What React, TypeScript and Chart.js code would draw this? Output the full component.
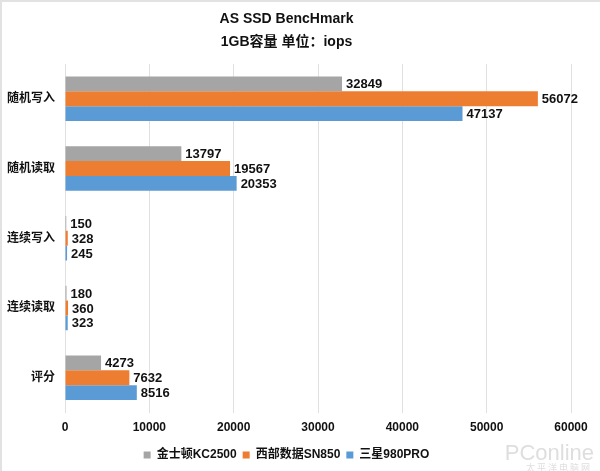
import React, { useEffect, useRef } from "react";
import { Chart, registerables } from "chart.js";

Chart.register(...registerables);

const categories = ["随机写入", "随机读取", "连续写入", "连续读取", "评分"];
const kingston = [32849, 13797, 150, 180, 4273];
const wd = [56072, 19567, 328, 360, 7632];
const samsung = [47137, 20353, 245, 323, 8516];
const seriesNames = ["金士顿KC2500", "西部数据SN850", "三星980PRO"];
const seriesColors = ["#A5A5A5", "#ED7D31", "#5B9BD5"];
const titleLines = ["AS SSD BencHmark", "1GB容量 单位：iops"];
const xMax = 60000;
const xStep = 10000;

const FONT = "'Liberation Sans', Arial, 'Noto Sans CJK SC', sans-serif";

const valueLabels = {
  id: "valueLabels",
  afterDatasetsDraw(chart: any) {
    const ctx = chart.ctx;
    ctx.save();
    ctx.font = `bold 13px ${FONT}`;
    ctx.fillStyle = "#111";
    ctx.textBaseline = "middle";
    ctx.textAlign = "left";
    chart.data.datasets.forEach((ds: any, di: number) => {
      const meta = chart.getDatasetMeta(di);
      meta.data.forEach((el: any, i: number) => {
        ctx.fillText(String(ds.data[i]), el.x + 4, el.y + 1);
      });
    });
    ctx.restore();
  },
};

const watermark = {
  id: "watermark",
  afterDraw(chart: any) {
    const ctx = chart.ctx;
    ctx.save();
    ctx.fillStyle = "rgba(200,200,200,0.6)";
    ctx.textAlign = "right";
    ctx.textBaseline = "alphabetic";
    ctx.font = `22px ${FONT}`;
    ctx.fillText("PConline", 592, 458);
    ctx.font = `9px 'Noto Sans CJK SC', sans-serif`;
    ctx.fillText("太 平 洋 电 脑 网", 588, 469);
    ctx.restore();
  },
};

export default function App() {
  const ref = useRef<HTMLCanvasElement>(null);
  useEffect(() => {
    if (!ref.current) return;
    const chart = new Chart(ref.current, {
      type: "bar",
      data: {
        labels: categories,
        datasets: [kingston, wd, samsung].map((d, i) => ({
          label: seriesNames[i],
          data: d,
          backgroundColor: seriesColors[i],
          borderWidth: 0,
          categoryPercentage: 0.64,
          barPercentage: 1.0,
        })),
      },
      options: {
        indexAxis: "y",
        animation: false,
        responsive: false,
        maintainAspectRatio: false,
        layout: { padding: { left: 0, right: 29, top: 4, bottom: 0 } },
        plugins: {
          title: {
            display: true,
            text: titleLines,
            color: "#111",
            font: { family: FONT, size: 14, weight: "bold", lineHeight: 1.64 },
            padding: { top: 2, bottom: 10 },
          },
          legend: {
            position: "bottom",
            labels: {
              boxWidth: 7,
              boxHeight: 7,
              color: "#111",
              font: { family: FONT, size: 12, weight: "bold" },
              padding: 6,
            },
          },
          tooltip: { enabled: false },
        },
        scales: {
          x: {
            min: 0,
            max: xMax,
            ticks: {
              stepSize: xStep,
              color: "#111",
              font: { family: FONT, size: 12, weight: "bold" },
              padding: 8,
              callback: (v: any) => String(v),
            },
            grid: { color: "#E0E0E0", drawTicks: false, lineWidth: 1 },
            border: { display: false },
          },
          y: {
            afterFit: (s: any) => {
              s.width = 63;
            },
            ticks: {
              color: "#111",
              font: { family: FONT, size: 12, weight: "bold" },
              padding: 10,
            },
            grid: { display: false, drawTicks: false },
            border: { display: false },
          },
        },
      },
      plugins: [valueLabels, watermark],
    });
    return () => chart.destroy();
  }, []);
  return (
    <div
      style={{
        position: "fixed",
        left: 0,
        top: 0,
        width: 600,
        height: 471,
        background: "#fff",
        boxSizing: "border-box",
        borderTop: "2px solid #E2E2E2",
        borderLeft: "2px solid #E2E2E2",
      }}
    >
      <canvas ref={ref} width={598} height={469} style={{ display: "block" }} />
    </div>
  );
}
